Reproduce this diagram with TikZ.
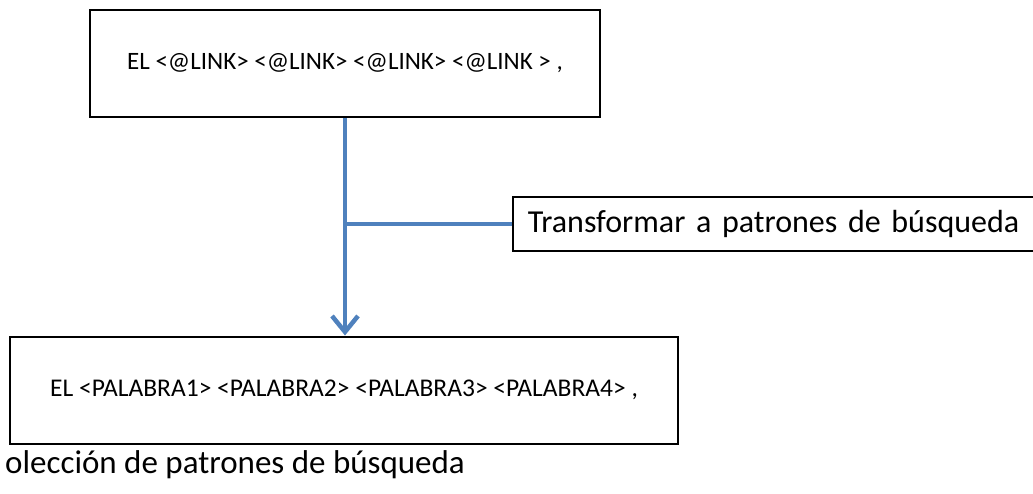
\documentclass[tikz,border=0pt]{standalone}
\usepackage{fontspec}
\setmainfont{Carlito}
\usetikzlibrary{arrows.meta,positioning}
\definecolor{flowblue}{RGB}{79,129,189}

\begin{document}
\begin{tikzpicture}[
    x=1pt, y=-1pt,
    patbox/.style={rectangle, draw, line width=2pt, minimum width=510pt, minimum height=107pt, font=\fontsize{25}{29}\selectfont},
    flow/.style={draw=flowblue, line width=4.5pt},
    arrow/.style={flow, -{Straight Barb[length=16pt,width=26pt]}}
]
\useasboundingbox (0,0) rectangle (1033,493);
\clip (0,0) rectangle (1033,493);

\node[patbox] (src) at (345,63.5) {EL <@LINK> <@LINK> <@LINK> <@LINK > ,};
\node[patbox, minimum width=668pt, font=\fontsize{25.5}{29}\selectfont] (dst) at (344,390) {EL <PALABRA1> <PALABRA2> <PALABRA3> <PALABRA4> ,};

% step label, runs off the right edge
\node[draw, line width=1.5pt, anchor=west, minimum height=54pt, text width=520pt, inner xsep=15pt, align=left, font=\fontsize{32}{36}\selectfont] (step) at (512,224) {Transformar a patrones de búsqueda};

\draw[arrow] (src.south) -- (dst.north -| src.south);
\draw[flow] (step.west) -- (step.west -| src.south);

\node[anchor=base west, inner sep=0pt, font=\fontsize{33}{38}\selectfont] (caption) at (5,473) {olección de patrones de búsqueda};
\end{tikzpicture}
\end{document}
